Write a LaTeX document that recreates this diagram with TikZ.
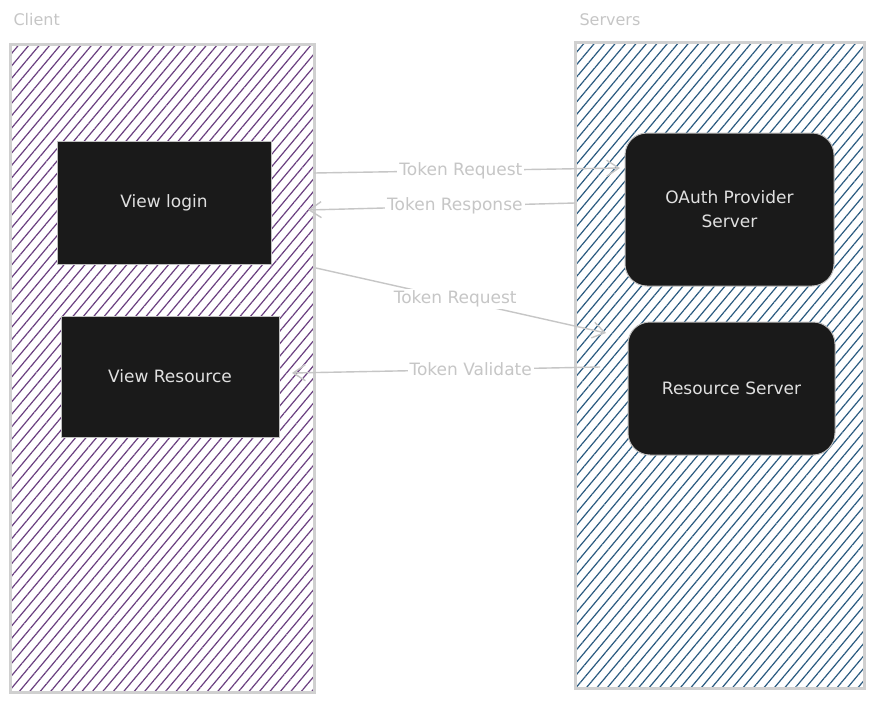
\documentclass[tikz,border=0pt]{standalone}
\usepackage{fontspec}
\setmainfont{DejaVu Sans}
\usetikzlibrary{patterns.meta,arrows.meta}
\definecolor{clientline}{HTML}{6A3F80}
\definecolor{serverline}{HTML}{2A5A80}
\definecolor{framegray}{HTML}{D0D0D0}
\definecolor{boxfill}{HTML}{1A1A1A}
\definecolor{labelgray}{HTML}{C6C6C6}
\tikzstyle{container}=[draw=framegray,line width=3pt,inner sep=0pt]
\tikzstyle{hatch}=[pattern={Lines[angle=50,distance=8pt,line width=1.2pt]}]
\tikzstyle{title}=[font=\fontsize{16}{19}\selectfont,text=labelgray,anchor=west]
\tikzstyle{block}=[draw=white!75!black,line width=1pt,fill=boxfill,text=white!88!black,font=\fontsize{17}{24}\selectfont,align=center,inner sep=0pt]
\tikzstyle{flow}=[draw=labelgray,line width=1.4pt]
\tikzstyle{flowlabel}=[fill=white,text=labelgray,font=\fontsize{17}{20}\selectfont,inner sep=2pt]
\tikzstyle{arrowdecorate}=[->,>={Straight Barb[length=12pt,width=16pt]}]

\begin{document}
\begin{tikzpicture}[x=1pt,y=-1pt]
    \useasboundingbox[fill=white] (0,0) rectangle (874,702);
    % containers
    \node[container, hatch, pattern color=clientline, minimum width=304pt, minimum height=648pt] (client) at (162,368) {};
    \node[container, hatch, pattern color=serverline, minimum width=289pt, minimum height=646pt] (servers) at (719.5,365) {};
    \node[title] (clienttitle) at (10,20) {Client};
    \node[title] (serverstitle) at (576,20) {Servers};
    % blocks
    \foreach \nodename/\x/\y/\w/\h/\r/\text in {
      login/164/202.5/214/123/0/View login,
      resource/170/376.5/218/121/0/View Resource,
      oauth/729.5/209.5/209/153/22/OAuth Provider\\Server,
      resserver/731.5/388.5/207/133/22/Resource Server}
    {
        \node[block, rounded corners=\r pt, minimum width=\w pt, minimum height=\h pt] (\nodename) at (\x,\y) {\text};
    };
    % connector ends
    \coordinate (reqAout) at (314,173);
    \coordinate (reqAin) at (620,168);
    \coordinate (resAout) at (575,203);
    \coordinate (resAin) at (308,210);
    \coordinate (reqBout) at (316,268);
    \coordinate (reqBin) at (606,333);
    \coordinate (valout) at (600,367);
    \coordinate (valin) at (292,373);
    % edges
    \path
    \foreach \startnode/\endnode/\pos/\label in {
      reqAout/reqAin/0.48/Token Request,
      resAout/resAin/0.45/Token Response,
      reqBout/reqBin/0.48/Token Request,
      valout/valin/0.42/Token Validate}
    {
      (\startnode) edge[flow, arrowdecorate] node[flowlabel, pos=\pos] {\label} (\endnode)
    };
\end{tikzpicture}
\end{document}
